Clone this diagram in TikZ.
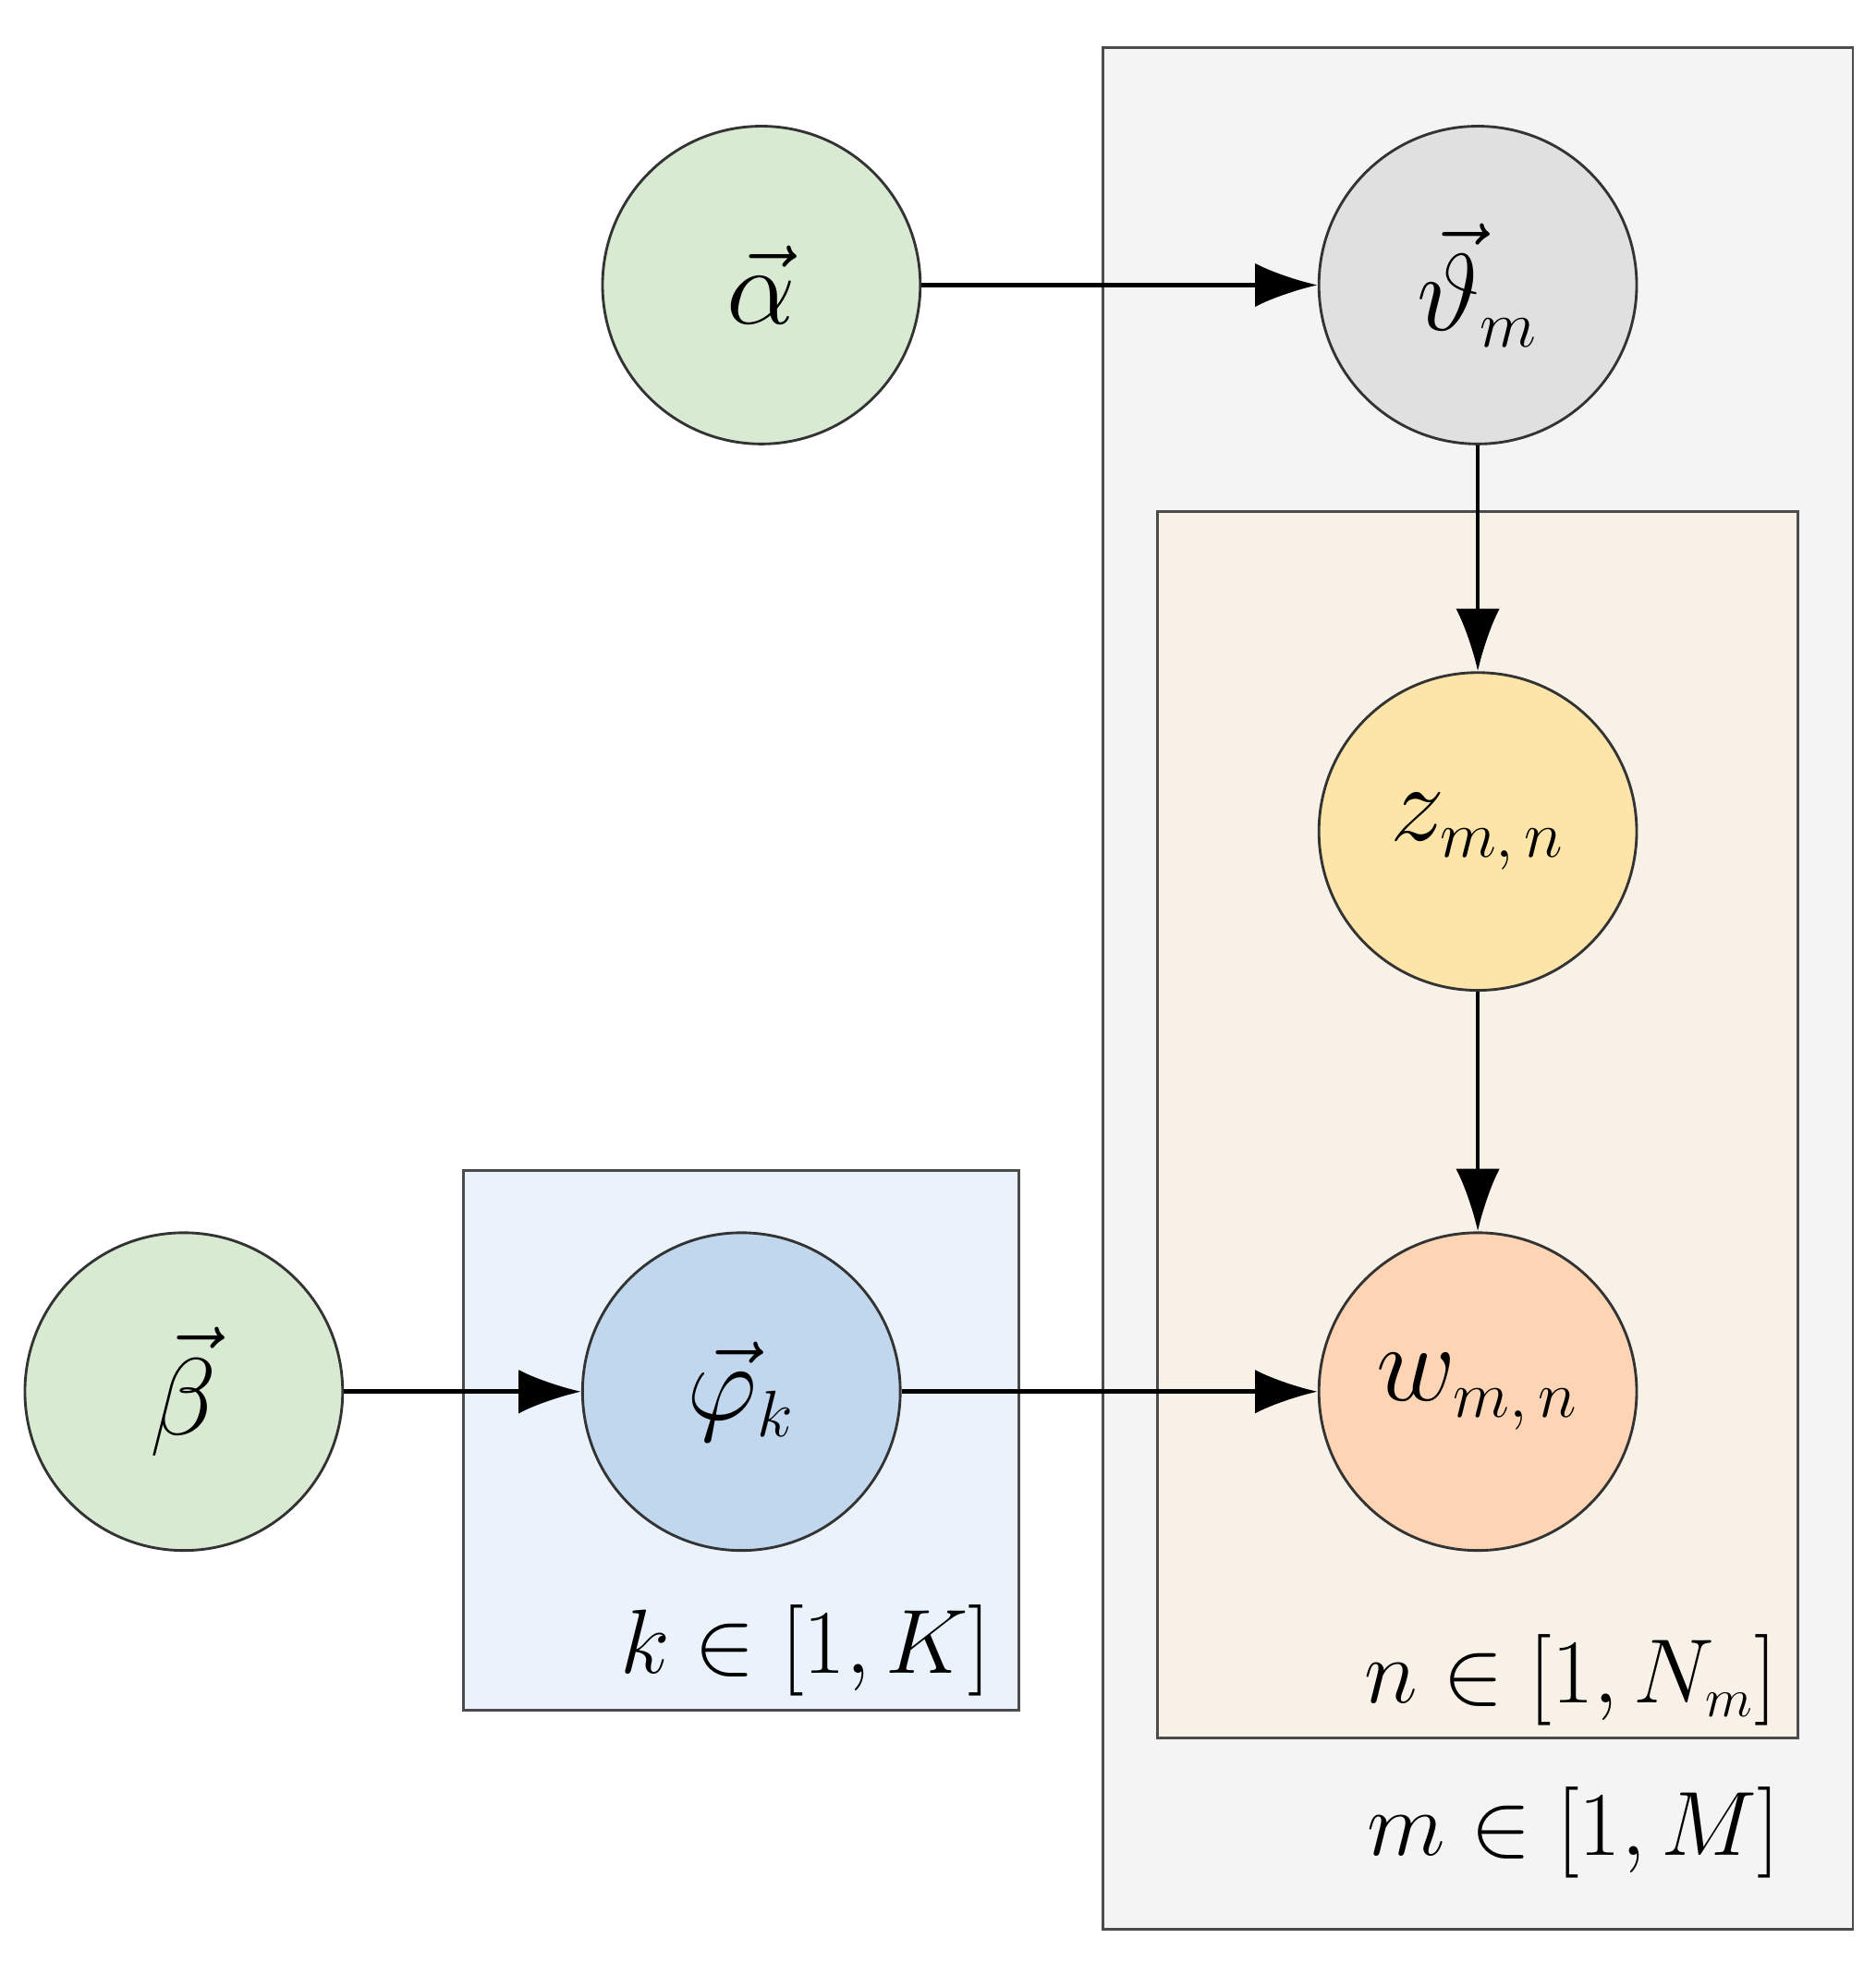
\documentclass[tikz,border=0pt]{standalone}
\usepackage{amsmath}
\usepackage{graphicx}
\usetikzlibrary{arrows.meta}
\newcommand{\ssub}[1]{\scalebox{0.6}{$#1$}}
\definecolor{plateg}{HTML}{F4F4F4}
\definecolor{plateb}{HTML}{F8F1E7}
\definecolor{platek}{HTML}{EAF3FB}
\definecolor{cgreen}{HTML}{D9EAD3}
\definecolor{cgray}{HTML}{E0E0E0}
\definecolor{cyel}{HTML}{FDE4A8}
\definecolor{corg}{HTML}{FDD5B5}
\definecolor{cblue}{HTML}{C0D7EE}
\begin{document}
\begin{tikzpicture}[x=0.01cm,y=-0.01cm,
  var/.style={circle,draw=black!80,line width=0.6pt,minimum size=2.54cm,inner sep=0pt,font=\fontsize{40}{48}\selectfont},
  plate/.style={draw=black!70,line width=0.6pt},
  lab/.style={font=\fontsize{22}{26}\selectfont,anchor=base east},
  edge/.style={-{Latex[length=5mm,width=3.5mm]},line width=1pt}]
\useasboundingbox (0,0) rectangle (1500,1570);
\filldraw[plate,fill=plateg] (882,38) rectangle (1482,1543);
\filldraw[plate,fill=plateb] (926,409) rectangle (1438,1390);
\filldraw[plate,fill=platek] (371,936) rectangle (815,1368);
\node[var,fill=cgreen] (alpha) at (609,228) {$\vec\alpha$};
\node[var,fill=cgray] (theta) at (1182,228) {$\vec\vartheta_{\ssub{m}}$};
\node[var,fill=cyel] (z) at (1182,665) {$z_{\ssub{m,n}}$};
\node[var,fill=corg] (w) at (1182,1113) {$w_{\ssub{m,n}}$};
\node[var,fill=cgreen] (beta) at (147,1113) {$\vec\beta$};
\node[var,fill=cblue] (phi) at (593,1113) {$\vec\varphi_{\ssub{k}}$};
\draw[edge] (alpha) -- (theta);
\draw[edge] (theta) -- (z);
\draw[edge] (z) -- (w);
\draw[edge] (beta) -- (phi);
\draw[edge] (phi) -- (w);
\node[lab] (kl) at (805,1338) {$k\in[1,K]$};
\node[lab] (nl) at (1434,1362) {$n\in[1,N_{\ssub{m}}]$};
\node[lab] (ml) at (1436,1484) {$m\in[1,M]$};
\end{tikzpicture}
\end{document}
